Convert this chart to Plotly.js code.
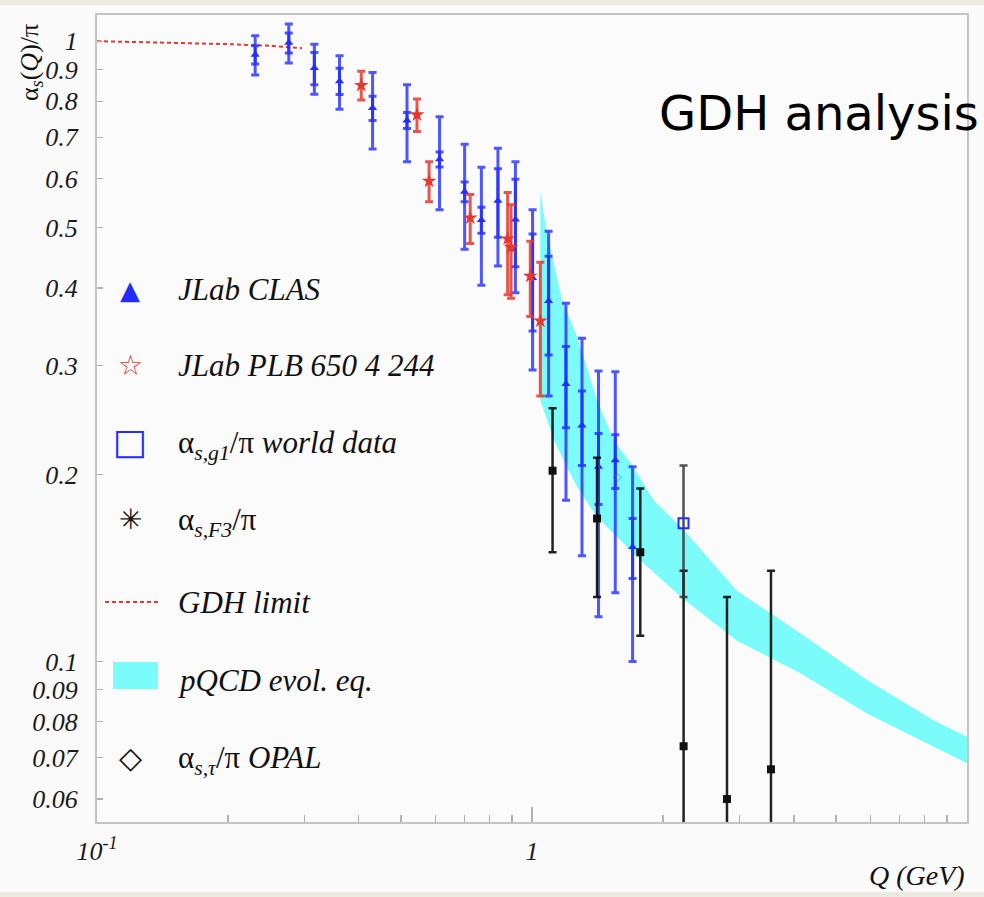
<!DOCTYPE html>
<html>
<head>
<meta charset="utf-8">
<script src="https://cdn.plot.ly/plotly-3.0.1.min.js"></script>
<style>
  html, body { margin: 0; padding: 0; background: #fafafa; }
  #chart { width: 984px; height: 897px; }
</style>
</head>
<body>
<div id="chart"></div>
<script>
// JLab CLAS: Q (GeV), alpha_s/pi, statistical and total uncertainties
const clasQ    = [0.231, 0.276, 0.316, 0.361, 0.430, 0.516, 0.613, 0.700, 0.765, 0.835, 0.916, 1.003, 1.092, 1.197, 1.303, 1.422, 1.554, 1.703];
const clasVal  = [0.951, 0.994, 0.905, 0.862, 0.780, 0.745, 0.645, 0.572, 0.515, 0.553, 0.516, 0.415, 0.381, 0.280, 0.240, 0.206, 0.211, 0.153];
const clasStat = [0.032, 0.037, 0.054, 0.042, 0.035, 0.022, 0.018, 0.021, 0.025, 0.070, 0.083, 0.074, 0.069, 0.042, 0.033, 0.027, 0.021, 0.017];
const clasTot  = [0.069, 0.072, 0.084, 0.085, 0.110, 0.106, 0.110, 0.110, 0.111, 0.119, 0.123, 0.120, 0.113, 0.098, 0.092, 0.088, 0.082, 0.053];

// JLab PLB 650 4 244
const plbQ   = [0.405, 0.544, 0.580, 0.721, 0.879, 0.895, 0.991, 1.045];
const plbVal = [0.849, 0.761, 0.595, 0.519, 0.480, 0.465, 0.418, 0.354];
const plbErr = [0.045, 0.046, 0.044, 0.047, 0.090, 0.080, 0.058, 0.086];

// alpha_s,g1/pi world data
const g1Q   = [2.23];
const g1Val = [0.167];
const g1Err = [0.040];

// alpha_s,F3/pi
const f3Q   = [1.115, 1.411, 1.774, 2.231, 2.807, 3.543];
const f3Val = [0.203, 0.170, 0.150, 0.073, 0.060, 0.067];
const f3Err = [0.053, 0.043, 0.040, 0.067, 0.067, 0.073];

// alpha_s,tau/pi OPAL
const opalQ   = [1.57];
const opalVal = [0.198];

// GDH limit
const gdhQ   = [0.1, 0.15, 0.2, 0.25, 0.296];
const gdhVal = [1.0, 0.995, 0.989, 0.983, 0.974];

// pQCD evolution band: upper and lower edges
const bandHiQ = [1.045, 1.083, 1.172, 1.269, 1.411, 1.538, 1.710, 1.904, 2.231, 2.96, 4.14, 5.89, 8.38, 10];
const bandHi  = [0.572, 0.490, 0.383, 0.334, 0.264, 0.228, 0.206, 0.182, 0.163, 0.130, 0.111, 0.0933, 0.0804, 0.0756];
const bandLoQ = [1.045, 1.121, 1.269, 1.411, 1.805, 2.231, 2.96, 4.14, 5.89, 8.38, 10];
const bandLo  = [0.264, 0.228, 0.191, 0.171, 0.144, 0.126, 0.108, 0.0957, 0.0824, 0.0728, 0.0685];

// axis ticks
const yTickVals = [0.06, 0.07, 0.08, 0.09, 0.1, 0.2, 0.3, 0.4, 0.5, 0.6, 0.7, 0.8, 0.9, 1];
const yTickText = ['0.06', '0.07', '0.08', '0.09', '0.1', '0.2', '0.3', '0.4', '0.5', '0.6', '0.7', '0.8', '0.9', '1'];
const xTickVals = [0.1, 1];
const xTickText = ['10<sup>-1</sup>', '1'];
const xMinorVals = [0.2, 0.3, 0.4, 0.5, 0.6, 0.7, 0.8, 0.9, 2, 3, 4, 5, 6, 7, 8, 9];

// legend labels
const legendLabels = [
  'JLab CLAS',
  'JLab PLB 650 4 244',
  'α<sub><i>s,g1</i></sub>/π <i>world data</i>',
  'α<sub><i>s,F3</i></sub>/π',
  'GDH limit',
  'pQCD evol. eq.',
  'α<sub><i>s,τ</i></sub>/π <i>OPAL</i>'
];

// ---- page geometry ----
const W = 984, H = 897;
const M = { l: 97, r: 17, t: 15, b: 75 };
const PW = W - M.l - M.r, PH = H - M.t - M.b;
const fx = px => (px - M.l) / PW;
const fy = py => (M.t + PH - py) / PH;

const SERIF = 'Liberation Serif, Times New Roman, serif';
const BLUE = 'rgb(35,45,255)';
const BLUE_BAR = 'rgba(35,45,255,0.8)';
const RED = 'rgb(228,55,45)';
const RED_BAR = 'rgba(228,55,45,0.85)';
const CYAN = '#7cfbfb';

const bandX = bandHiQ.concat(bandLoQ.slice().reverse());
const bandY = bandHi.concat(bandLo.slice().reverse());

const traces = [
  { // pQCD band
    x: bandX, y: bandY, mode: 'lines', fill: 'toself', fillcolor: CYAN,
    line: { width: 0, color: CYAN }, hoverinfo: 'skip', showlegend: false
  },
  { // GDH limit
    x: gdhQ, y: gdhVal, mode: 'lines',
    line: { color: RED, width: 2, dash: '4px,3px' }, showlegend: false
  },
  { // CLAS total uncertainty
    x: clasQ, y: clasVal, mode: 'markers',
    marker: { symbol: 'triangle-up', size: 7, color: BLUE, opacity: 0 },
    error_y: { type: 'data', array: clasTot, color: BLUE_BAR, thickness: 3, width: 4 },
    showlegend: false
  },
  { // CLAS statistical uncertainty
    x: clasQ, y: clasVal, mode: 'markers',
    marker: { symbol: 'triangle-up', size: 8, color: BLUE },
    error_y: { type: 'data', array: clasStat, color: BLUE_BAR, thickness: 3, width: 4 },
    showlegend: false
  },
  { // JLab PLB
    x: plbQ, y: plbVal, mode: 'markers',
    marker: { symbol: 'star', size: 11, color: RED },
    error_y: { type: 'data', array: plbErr, color: RED_BAR, thickness: 3, width: 4 },
    showlegend: false
  },
  { // F3
    x: f3Q, y: f3Val, mode: 'markers',
    marker: { symbol: 'square', size: 8, color: '#111' },
    error_y: { type: 'data', array: f3Err, color: 'rgba(10,10,10,0.9)', thickness: 2.5, width: 4 },
    showlegend: false
  },
  { // g1 world data
    x: g1Q, y: g1Val, mode: 'markers',
    marker: { symbol: 'square-open', size: 10, color: BLUE, line: { width: 2, color: BLUE } },
    error_y: { type: 'data', array: g1Err, color: 'rgba(50,50,50,0.85)', thickness: 2.5, width: 4 },
    showlegend: false
  },
  { // OPAL
    x: opalQ, y: opalVal, mode: 'markers',
    marker: { symbol: 'diamond-open', size: 6, color: 'rgba(90,90,90,0.55)', line: { width: 1, color: 'rgba(90,90,90,0.55)' } },
    showlegend: false
  }
];

// hand-built legend, ROOT style, inside the frame
const legendRowsY = [290, 366, 445, 522, 602, 680, 760];
const legendGlyphs = [
  { t: '▲', c: BLUE, s: 26, y: 290 },
  { t: '☆', c: RED, s: 28, y: 365 },
  { t: '□', c: BLUE, s: 36, y: 442 },
  { t: '✳', c: '#111', s: 28, y: 519 },
  null,
  null,
  { t: '◇', c: '#111', s: 30, y: 757 }
];

const annotations = [];
legendLabels.forEach((lab, i) => {
  annotations.push({
    xref: 'paper', yref: 'paper', x: fx(176), y: fy(legendRowsY[i]),
    xanchor: 'left', yanchor: 'middle', showarrow: false, text: lab,
    font: { family: SERIF, size: 31, color: '#111', style: (i === 2 || i === 3 || i === 6) ? 'normal' : 'italic' }
  });
  const g = legendGlyphs[i];
  if (g) {
    annotations.push({
      xref: 'paper', yref: 'paper', x: fx(130), y: fy(g.y),
      xanchor: 'center', yanchor: 'middle', showarrow: false, text: g.t,
      font: { family: 'DejaVu Sans', size: g.s, color: g.c }
    });
  }
});

// title inside frame
annotations.push({
  xref: 'paper', yref: 'paper', x: fx(657), y: fy(113),
  xanchor: 'left', yanchor: 'middle', showarrow: false, text: 'GDH analysis',
  font: { family: 'Comic Sans MS, DejaVu Sans, sans-serif', size: 48, color: '#000' }
});
// y-axis title (top left, rotated)
annotations.push({
  xref: 'paper', yref: 'paper', x: fx(31), y: fy(63),
  xanchor: 'center', yanchor: 'middle', showarrow: false, textangle: -90,
  text: 'α<sub><i>s</i></sub>(<i>Q</i>)/π',
  font: { family: SERIF, size: 26, color: '#111' }
});
// x-axis title (bottom right)
annotations.push({
  xref: 'paper', yref: 'paper', x: 1, y: fy(875),
  xanchor: 'right', yanchor: 'middle', showarrow: false, text: '<i>Q (GeV)</i>',
  font: { family: SERIF, size: 28, color: '#111' }
});

const shapes = [
  { type: 'line', xref: 'paper', yref: 'paper', x0: fx(105), x1: fx(158), y0: fy(602), y1: fy(602),
    line: { color: RED, width: 2, dash: '4px,3px' } },
  { type: 'rect', xref: 'paper', yref: 'paper', x0: fx(113), x1: fx(158), y0: fy(662), y1: fy(689),
    fillcolor: CYAN, line: { width: 0 } },
  { type: 'rect', xref: 'paper', yref: 'paper', x0: fx(0), x1: fx(W), y0: fy(0), y1: fy(5),
    fillcolor: '#ebebe2', line: { width: 0 }, layer: 'below' },
  { type: 'rect', xref: 'paper', yref: 'paper', x0: fx(0), x1: fx(W), y0: fy(892), y1: fy(H),
    fillcolor: '#ebebe2', line: { width: 0 }, layer: 'below' }
];

const axisCommon = {
  type: 'log', showgrid: false, zeroline: false,
  showline: true, linecolor: '#c4c4c4', linewidth: 2, mirror: true,
  ticks: 'inside', tickcolor: '#b0b0b0', tickwidth: 1.2,
  tickfont: { family: SERIF, size: 26, color: '#1a1a1a', style: 'italic' }
};

const layout = {
  width: W, height: H,
  margin: M,
  paper_bgcolor: '#fafafa',
  plot_bgcolor: '#fbfbfb',
  showlegend: false,
  xaxis: Object.assign({}, axisCommon, {
    range: [-1, 1],
    tickmode: 'array', tickvals: xTickVals, ticktext: xTickText,
    ticklen: 15, ticklabelstandoff: 5,
    minor: { tickmode: 'array', tickvals: xMinorVals, ticks: 'inside', ticklen: 7, tickcolor: '#b0b0b0', tickwidth: 1.2, showgrid: false }
  }),
  yaxis: Object.assign({}, axisCommon, {
    range: [Math.log10(0.0551), Math.log10(1.102)],
    tickmode: 'array', tickvals: yTickVals, ticktext: yTickText,
    ticklen: 6, ticklabelstandoff: 12
  }),
  annotations: annotations,
  shapes: shapes
};

Plotly.newPlot('chart', traces, layout, { displayModeBar: false, staticPlot: true });
</script>
</body>
</html>
